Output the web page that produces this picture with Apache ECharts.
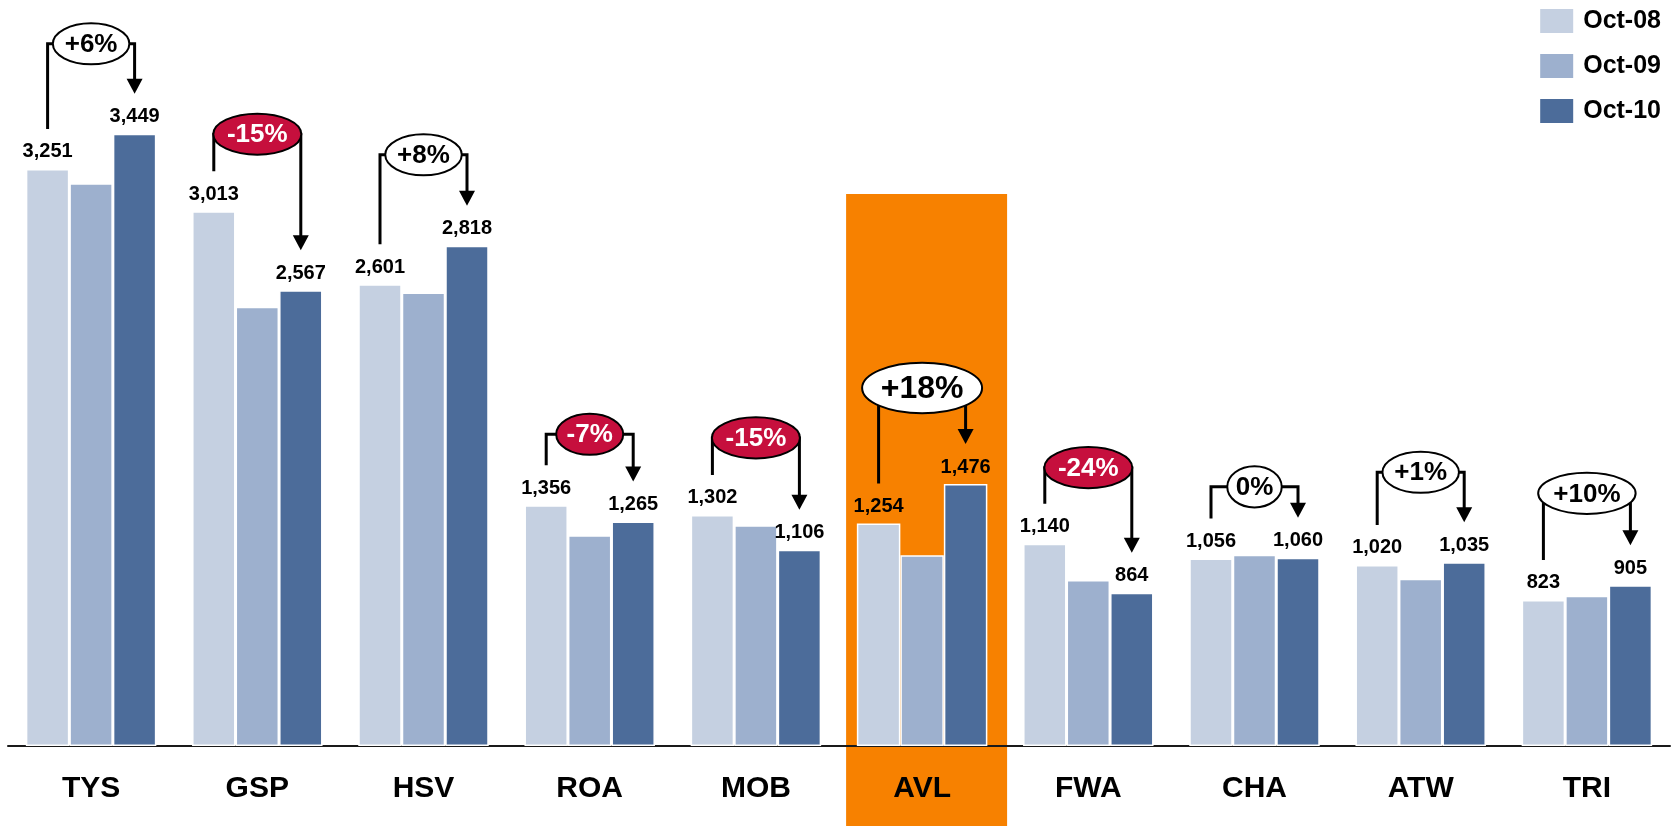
<!DOCTYPE html>
<html>
<head>
<meta charset="utf-8">
<script src="https://cdn.jsdelivr.net/npm/echarts@6/dist/echarts.min.js"></script>
<style>
  html, body { margin: 0; padding: 0; background: #fff; }
  #chart { width: 1675px; height: 826px; }
</style>
</head>
<body>
<div id="chart"></div>
<script>
// Airport passenger counts by market, October of each year
const categories = ['TYS', 'GSP', 'HSV', 'ROA', 'MOB', 'AVL', 'FWA', 'CHA', 'ATW', 'TRI'];
const seriesNames = ['Oct-08', 'Oct-09', 'Oct-10'];
const oct08 = [3251, 3013, 2601, 1356, 1302, 1254, 1140, 1056, 1020, 823];
const oct09 = [3170, 2475, 2555, 1188, 1244, 1075, 935, 1077, 942, 847];
const oct10 = [3449, 2567, 2818, 1265, 1106, 1476, 864, 1060, 1035, 905];
const highlightCategory = 'AVL';

// ---- layout and style ----
const FONT = '"Liberation Sans", Arial, Helvetica, sans-serif';
const BAR_W = 43.5;
const COLORS = ['#C5D0E1', '#9DB0CE', '#4C6C9A'];
const NEG_FILL = '#C60F3D';
const HIGHLIGHT_FILL = '#F78100';
const HIGHLIGHT_TOP_VALUE = 3110;      // top edge of the highlight column, in axis units
const LEADER_GAP = 40;                 // px between bar top and callout leader end
const bubbleLift = [50, 37, 51, 31, 37, 56, 36, 31, 50, 52]; // px the bubble sits above the higher leader end
const ARROW_H = 15, ARROW_HALF = 8;

const chart = echarts.init(document.getElementById('chart'), null, { renderer: 'canvas' });

function barSeries(name, data, color, labelled) {
  return {
    name, type: 'bar', data,
    barWidth: BAR_W, barGap: '0%', z: 2,
    itemStyle: { color, borderColor: '#ffffff', borderWidth: 1.5 },
    label: {
      show: labelled, position: 'top', distance: 7,
      fontFamily: FONT, fontSize: 20, fontWeight: 'bold', color: '#000',
      formatter: p => Number(p.value).toLocaleString('en-US')
    },
    emphasis: { disabled: true },
    silent: true
  };
}

chart.setOption({
  animation: false,
  backgroundColor: '#ffffff',
  textStyle: { fontFamily: FONT },
  legend: {
    orient: 'vertical', right: 14, top: 7, padding: 0,
    itemWidth: 35, itemHeight: 26, itemGap: 17, icon: 'rect',
    selectedMode: false,
    textStyle: { fontFamily: FONT, fontSize: 25, fontWeight: 'bold', color: '#000', lineHeight: 26, padding: [0, 0, 0, 4] },
    data: seriesNames
  },
  grid: { left: 8, right: 5, top: 36, bottom: 80, outerBoundsMode: 'none' },
  xAxis: {
    type: 'category', data: categories, z: 1,
    axisLine: { lineStyle: { color: '#1a1a1a', width: 2 } },
    axisTick: { show: false },
    axisLabel: { fontFamily: FONT, fontSize: 30, fontWeight: 'bold', color: '#000', margin: 28, interval: 0 },
    splitLine: { show: false }
  },
  yAxis: { type: 'value', min: 0, max: 4000, show: false, splitLine: { show: false } },
  series: [
    barSeries(seriesNames[0], oct08, COLORS[0], true),
    barSeries(seriesNames[1], oct09, COLORS[1], false),
    barSeries(seriesNames[2], oct10, COLORS[2], true)
  ]
});

// ---- highlight column and change callouts ----
const measureCtx = document.createElement('canvas').getContext('2d');
function textWidth(str, size) {
  measureCtx.font = 'bold ' + size + 'px ' + FONT;
  return measureCtx.measureText(str).width;
}
const toPx = (i, v) => chart.convertToPixel({ gridIndex: 0 }, [i, v]);

const graphics = [];
const hi = categories.indexOf(highlightCategory);
const [hx, hy] = toPx(hi, HIGHLIGHT_TOP_VALUE);
graphics.push({
  type: 'rect', z: -1, silent: true,
  shape: { x: hx - 76, y: hy, width: 161, height: chart.getHeight() - hy },
  style: { fill: HIGHLIGHT_FILL }
});

categories.forEach((cat, i) => {
  const [cx, yA] = toPx(i, oct08[i]);
  const yB = toPx(i, oct10[i])[1];
  const xL = cx - BAR_W, xR = cx + BAR_W;
  const yLeft = yA - LEADER_GAP;
  const yTip = yB - LEADER_GAP;
  const yE = Math.min(yLeft, yTip) - bubbleLift[i];

  const pct = Math.round((oct10[i] / oct08[i] - 1) * 100);
  const txt = (pct > 0 ? '+' : '') + pct + '%';
  const fs = cat === highlightCategory ? 32 : 26;
  const rx = textWidth(txt, fs) * 0.725;
  const ry = fs * 0.79;
  const negative = pct < 0;

  graphics.push({
    type: 'polyline', z: 100, silent: true,
    shape: { points: [[xL, yLeft], [xL, yE], [xR, yE], [xR, yTip - ARROW_H + 1]] },
    style: { stroke: '#000', lineWidth: 3, fill: null, lineJoin: 'miter' }
  });
  graphics.push({
    type: 'polygon', z: 100, silent: true,
    shape: { points: [[xR - ARROW_HALF, yTip - ARROW_H], [xR + ARROW_HALF, yTip - ARROW_H], [xR, yTip]] },
    style: { fill: '#000' }
  });
  graphics.push({
    type: 'ellipse', z: 101, silent: true,
    shape: { cx: cx, cy: yE, rx: rx, ry: ry },
    style: { fill: negative ? NEG_FILL : '#ffffff', stroke: '#000', lineWidth: 2 }
  });
  graphics.push({
    type: 'text', z: 102, silent: true,
    style: {
      text: txt, x: cx, y: yE + 1, align: 'center', verticalAlign: 'middle',
      fill: negative ? '#ffffff' : '#000',
      fontFamily: FONT, fontSize: fs, fontWeight: 'bold'
    }
  });
});

chart.setOption({ graphic: graphics });
</script>
</body>
</html>
